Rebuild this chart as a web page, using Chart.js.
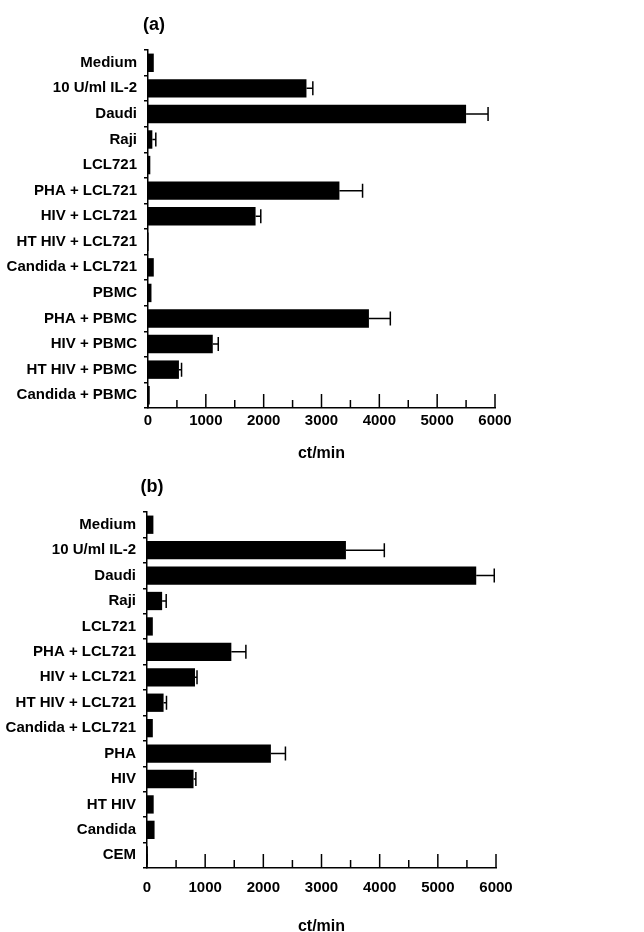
<!DOCTYPE html>
<html><head><meta charset="utf-8">
<script src="https://cdn.jsdelivr.net/npm/chart.js@4.4.1/dist/chart.umd.min.js"></script>
<style>
html,body{margin:0;padding:0;background:#fff;}
canvas{display:block;position:absolute;left:0;}
#ca{top:0px}
#cb{top:466px}
</style>
</head><body>
<canvas id="ca" width="644" height="466"></canvas>
<canvas id="cb" width="644" height="466"></canvas>
<script>
// ---- data ----
const categoriesA = ["Medium","10 U/ml IL-2","Daudi","Raji","LCL721","PHA + LCL721","HIV + LCL721","HT HIV + LCL721","Candida + LCL721","PBMC","PHA + PBMC","HIV + PBMC","HT HIV + PBMC","Candida + PBMC"];
const valuesA = [100, 2740, 5500, 75, 40, 3310, 1860, 10, 100, 60, 3820, 1120, 535, 30];
const errorsA = [0, 110, 380, 60, 0, 400, 90, 0, 0, 0, 370, 95, 45, 0];

const categoriesB = ["Medium","10 U/ml IL-2","Daudi","Raji","LCL721","PHA + LCL721","HIV + LCL721","HT HIV + LCL721","Candida + LCL721","PHA","HIV","HT HIV","Candida","CEM"];
const valuesB = [110, 3420, 5660, 260, 100, 1450, 825, 285, 100, 2130, 800, 115, 130, 15];
const errorsB = [0, 660, 310, 70, 0, 250, 35, 50, 0, 250, 40, 0, 0, 0];

const xTickValues = [0, 1000, 2000, 3000, 4000, 5000, 6000];
const xAxisTitle = "ct/min";

function hasFont(name) {
  const c = document.createElement('canvas').getContext('2d');
  const s = 'abcdefgMWil123 +/';
  c.font = '40px monospace';
  const w0 = c.measureText(s).width;
  c.font = '40px "' + name + '", monospace';
  return Math.abs(c.measureText(s).width - w0) > 0.5;
}
const NARROW = hasFont('Liberation Sans Narrow');
const FONT = NARROW ? "'Liberation Sans Narrow', 'Liberation Sans', Arial, sans-serif" : "'Liberation Sans', Arial, sans-serif";
const LABEL_SIZE = NARROW ? 17 : 15;
const TICK_SIZE = NARROW ? 17 : 15;
const AXIS_TITLE_SIZE = NARROW ? 18 : 16;
const PANEL_SIZE = NARROW ? 20 : 18;

const errorBarPlugin = {
  id: 'errorBars',
  afterDatasetsDraw(chart, args, opts) {
    const ctx = chart.ctx;
    const meta = chart.getDatasetMeta(0);
    const xs = chart.scales.x;
    const errs = opts.errors || [];
    const vals = chart.data.datasets[0].data;
    ctx.save();
    ctx.strokeStyle = '#000';
    ctx.lineWidth = 1.5;
    meta.data.forEach((bar, i) => {
      const e = errs[i];
      if (!e) return;
      const x0 = bar.x;
      const x1 = xs.getPixelForValue(vals[i] + e);
      const y = bar.y;
      ctx.beginPath();
      ctx.moveTo(x0, y); ctx.lineTo(x1, y);
      ctx.moveTo(x1, y - 7); ctx.lineTo(x1, y + 7);
      ctx.stroke();
    });
    ctx.restore();
  }
};

const xTicksPlugin = {
  id: 'xTickMarks',
  afterDraw(chart) {
    const ctx = chart.ctx;
    const xs = chart.scales.x;
    const yb = chart.chartArea.bottom;
    ctx.save();
    ctx.strokeStyle = '#000';
    ctx.lineWidth = 1.5;
    xs.ticks.forEach(t => {
      const px = xs.getPixelForValue(t.value);
      const len = (t.value % 1000 === 0) ? 14 : 8;
      ctx.beginPath();
      ctx.moveTo(px, yb);
      ctx.lineTo(px, yb - len);
      ctx.stroke();
    });
    ctx.restore();
  }
};

const panelTitlePlugin = {
  id: 'panelTitle',
  afterDraw(chart, args, opts) {
    const ctx = chart.ctx;
    ctx.save();
    ctx.fillStyle = '#000';
    ctx.font = "bold " + PANEL_SIZE + "px " + FONT;
    ctx.textAlign = 'center';
    ctx.textBaseline = 'middle';
    ctx.fillText(opts.text, chart.chartArea.left + opts.dx, opts.y);
    ctx.restore();
  }
};

function makeChart(id, title, cats, vals, errs, g) {
  const H = 466;
  return new Chart(document.getElementById(id), {
    type: 'bar',
    data: {
      labels: cats,
      datasets: [{
        data: vals,
        backgroundColor: '#000',
        borderWidth: 0,
        categoryPercentage: 1.0,
        barPercentage: 0.72
      }]
    },
    options: {
      indexAxis: 'y',
      responsive: false,
      animation: false,
      devicePixelRatio: 1,
      layout: { padding: { top: g.top, right: 644 - g.right, bottom: 0, left: 0 } },
      plugins: {
        legend: { display: false },
        tooltip: { enabled: false },
        errorBars: { errors: errs },
        panelTitle: { text: title, dx: g.titleDx, y: g.titleY }
      },
      scales: {
        y: {
          type: 'category',
          offset: true,
          afterFit: s => { s.width = g.left; },
          grid: { display: true, drawOnChartArea: false, drawTicks: true, tickLength: 4, offset: true, color: '#000', lineWidth: 1.5 },
          border: { display: true, color: '#000', width: 1.5 },
          ticks: { color: '#000', padding: 7, font: { family: FONT, size: LABEL_SIZE, weight: 'bold' } }
        },
        x: {
          type: 'linear',
          min: 0, max: 6000,
          afterFit: s => { s.height = H - g.bottom; },
          grid: { display: false, drawTicks: false },
          border: { display: true, color: '#000', width: 1.5 },
          ticks: {
            stepSize: 500, autoSkip: false, maxRotation: 0,
            color: '#000', padding: g.tickPad,
            font: { family: FONT, size: TICK_SIZE, weight: 'bold' },
            callback: v => xTickValues.includes(v) ? String(v) : ''
          },
          title: {
            display: true, text: xAxisTitle, color: '#000',
            font: { family: FONT, size: AXIS_TITLE_SIZE, weight: 'bold' },
            padding: { top: 0, bottom: g.titlePadBottom }
          }
        }
      }
    },
    plugins: [errorBarPlugin, xTicksPlugin, panelTitlePlugin]
  });
}

makeChart('ca', '(a)', categoriesA, valuesA, errorsA,
  { left: 148, right: 495, top: 50, bottom: 408, tickPad: 4, titlePadBottom: 3, titleDx: 6, titleY: 25 });
makeChart('cb', '(b)', categoriesB, valuesB, errorsB,
  { left: 147, right: 496, top: 46, bottom: 402, tickPad: 11, titlePadBottom: -4, titleDx: 5, titleY: 21 });
</script>
</body></html>
